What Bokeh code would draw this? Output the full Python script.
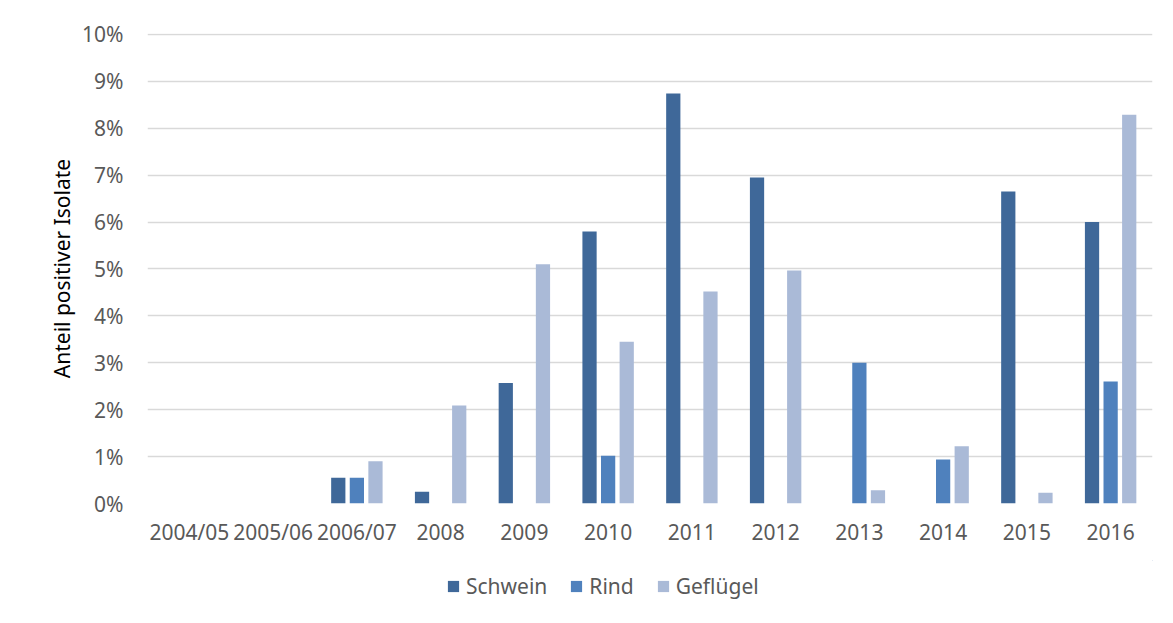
from bokeh.plotting import figure
from bokeh.models import ColumnDataSource, Legend, LegendItem, NumeralTickFormatter, FixedTicker
from bokeh.layouts import column
from bokeh.transform import dodge
from bokeh.embed import file_html
from bokeh.resources import INLINE

years = ["2004/05", "2005/06", "2006/07", "2008", "2009", "2010",
         "2011", "2012", "2013", "2014", "2015", "2016"]
schwein = [0, 0, 0.55, 0.25, 2.57, 5.8, 8.74, 6.95, 0, 0, 6.65, 6.0]
rind = [0, 0, 0.55, 0, 0, 1.02, 0, 0, 3.0, 0.94, 0, 2.6]
gefluegel = [0, 0, 0.9, 2.09, 5.1, 3.45, 4.52, 4.97, 0.28, 1.22, 0.23, 8.29]
y_ticks = [0, 1, 2, 3, 4, 5, 6, 7, 8, 9, 10]
series = ["Schwein", "Rind", "Geflügel"]
colors = ["#3f6899", "#4f81bd", "#aabad7"]

src = ColumnDataSource(dict(years=years,
                            schwein=[v / 100 for v in schwein],
                            rind=[v / 100 for v in rind],
                            gefluegel=[v / 100 for v in gefluegel]))

FONT = "Noto Sans"
TXT = "#595959"
FS = "21px"

p = figure(x_range=years, y_range=(0, 0.1002), width=1173, height=560,
           output_backend="svg", toolbar_location=None,
           min_border_left=147, min_border_right=21, min_border_top=33,
           min_border_bottom=57)
p.outline_line_color = None

w = 0.17
sp = 0.222
for off, col, c in zip([-sp, 0, sp], ["schwein", "rind", "gefluegel"], colors):
    p.vbar(x=dodge("years", off, range=p.x_range), top=col, width=w,
           source=src, fill_color=c, line_color=None)

p.xgrid.grid_line_color = None
p.ygrid.grid_line_color = "#d9d9d9"
p.ygrid.grid_line_width = 1.5
p.yaxis.ticker = FixedTicker(ticks=[t / 100 for t in y_ticks])
p.yaxis.formatter = NumeralTickFormatter(format="0%")

for ax in (p.xaxis[0], p.yaxis[0]):
    ax.axis_line_color = None
    ax.major_tick_line_color = None
    ax.minor_tick_line_color = None
    ax.major_tick_out = 0
    ax.major_tick_in = 0
    ax.minor_tick_out = 0
    ax.major_label_text_font = FONT
    ax.major_label_text_font_size = FS
    ax.major_label_text_color = TXT

p.xaxis.major_label_standoff = 14
p.yaxis.major_label_standoff = 24
p.yaxis.axis_label = "Anteil positiver Isolate"
p.yaxis.axis_label_text_font = FONT
p.yaxis.axis_label_text_font_size = FS
p.yaxis.axis_label_text_font_style = "normal"
p.yaxis.axis_label_text_color = "#000000"
p.yaxis.axis_label_standoff = 3

# legend row
lg = figure(width=1173, height=63, x_range=(0, 1), y_range=(0, 1),
            output_backend="svg", toolbar_location=None,
            min_border_left=0, min_border_right=0, min_border_top=0,
            min_border_bottom=0, x_axis_type=None, y_axis_type=None)
lg.outline_line_color = None
lg.xgrid.visible = False
lg.ygrid.visible = False
items = []
for name, c in zip(series, colors):
    r = lg.vbar(x=[5], top=[5], bottom=[4], width=0.1, fill_color=c, line_color=None)
    items.append(LegendItem(label=name, renderers=[r]))
legend = Legend(items=items, orientation="horizontal", location=(299, 23),
                glyph_width=14, glyph_height=14, label_standoff=6, spacing=22,
                padding=0, margin=0, border_line_color=None,
                background_fill_alpha=0,
                label_text_font=FONT, label_text_font_size=FS,
                label_text_color=TXT)
lg.add_layout(legend)

layout = column(p, lg, spacing=0)
open("out.html", "w").write(file_html(layout, INLINE))
